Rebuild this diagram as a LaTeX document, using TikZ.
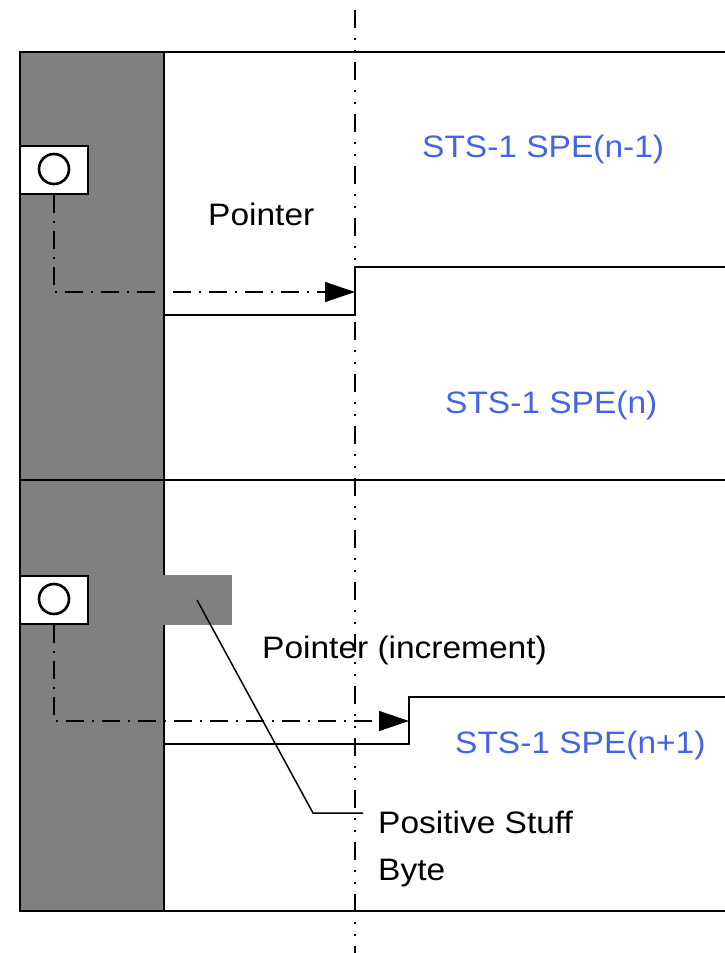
\documentclass[tikz,border=0pt]{standalone}
\usepackage{fontspec}
\setmainfont{Liberation Sans}[FakeStretch=1.08]
\usetikzlibrary{arrows.meta}
\definecolor{speblue}{RGB}{68,100,228}
\definecolor{ohgray}{RGB}{128,128,128}

\begin{document}
\begin{tikzpicture}[x=1pt,y=-1pt,
  frame/.style={line width=1.5pt, black},
  lbl/.style={anchor=base west, inner sep=0pt, font=\fontsize{31}{36}\selectfont},
  spe/.style={lbl, text=speblue},
  ptrbox/.style={draw, line width=1.5pt, fill=white, minimum width=68pt, minimum height=48pt, inner sep=0pt},
  ptrmark/.style={line width=2.6pt},
  ptrflow/.style={line width=1.4pt, dash pattern=on 18pt off 8pt on 2pt off 8pt,
                  -{Triangle[length=30pt,width=20pt]}},
  axisline/.style={line width=1.4pt, dash pattern=on 18pt off 10pt on 1.5pt off 10.5pt on 1.5pt off 10.5pt},
  leader/.style={line width=1.5pt}]
\useasboundingbox (0,0) rectangle (725,953);

% overhead column and the positive stuff byte
\fill[ohgray] (20,52) rectangle (164,911);
\fill[ohgray] (164,575) rectangle (232,625);

% frame rows
\draw[frame] (725,52) -- (20,52) -- (20,911) -- (725,911);
\draw[frame] (20,480) -- (725,480);
\draw[frame] (164,52) -- (164,575);
\draw[frame] (164,625) -- (164,911);

% SPE boundaries
\draw[frame] (164,315) -- (355,315) -- (355,267) -- (725,267);
\draw[frame] (164,744) -- (409,744) -- (409,697) -- (725,697);

% pointer bytes
\node[ptrbox] (ptrA) at (54,170) {};
\draw[ptrmark] ([yshift=1pt]ptrA.center) circle [radius=15pt];
\node[ptrbox] (ptrB) at (54,600) {};
\draw[ptrmark] ([yshift=1pt]ptrB.center) circle [radius=15pt];

\coordinate (startA) at (355,292);
\coordinate (startB) at (409,721);
\draw[ptrflow] (ptrA.south) |- (startA);
\draw[ptrflow] (ptrB.south) |- (startB);

% labels
\node[spe] (speA) at (422,157) {STS-1 SPE(n-1)};
\node[lbl] (pA) at (208,225) {Pointer};
\node[spe] (speB) at (445,413) {STS-1 SPE(n)};
\node[lbl] (pB) at (262,658) {Pointer (increment)};
\node[spe] (speC) at (455,753) {STS-1 SPE(n+1)};
\node[lbl] (stuff) at (378,833) {Positive Stuff};
\node[lbl] (byte) at (378,880) {Byte};

% leader to the stuff byte
\coordinate (stuffbyte) at (197,600);
\coordinate (bend) at (313,813);
\coordinate (leaderend) at (363,813);
\draw[leader] (stuffbyte) -- (bend) -- (leaderend);

% reference axis
\draw[axisline] (355,10) -- (355,953);
\end{tikzpicture}
\end{document}
